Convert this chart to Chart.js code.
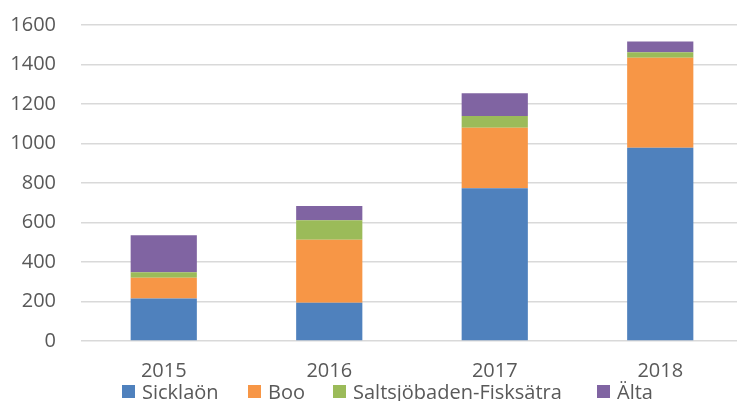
<!DOCTYPE html>
<html lang="sv">
<head>
  <meta charset="UTF-8">
  <title>Stacked columns 2015–2018</title>
  <style>
    * { box-sizing: border-box; margin: 0; padding: 0; }
    html, body { width: 737px; height: 401px; overflow: hidden; background: #fff; }
    .wrap { position: relative; width: 737px; height: 401px; overflow: hidden; }
    .chart-box { position: absolute; left: 0; top: -12px; width: 743px; height: 413px; }
    .legend {
      position: absolute; left: 122px; top: 382px; height: 19px;
      display: flex; align-items: center;
      font: 20px "Open Sans", sans-serif; color: #595959; white-space: nowrap;
    }
    .legend span { display: flex; align-items: center; }
    .legend span:nth-child(1) { width: 126px; }
    .legend span:nth-child(2) { width: 85px; }
    .legend span:nth-child(3) { width: 264px; }
    .legend i { display: inline-block; width: 13px; height: 13px; margin-right: 7px; }
  </style>
</head>
<body>
  <div class="wrap">
    <div class="chart-box"><canvas id="chart"></canvas></div>
    <div class="legend" id="legend"></div>
  </div>

  <script src="https://cdn.jsdelivr.net/npm/chart.js"></script>
  <script>
    const years = ['2015', '2016', '2017', '2018'];
    const seriesNames = ['Sicklaön', 'Boo', 'Saltsjöbaden-Fisksätra', 'Älta'];
    const sicklaon = [215, 194, 773, 979];
    const boo = [105, 319, 307, 455];
    const saltsjobaden = [28, 98, 59, 28];
    const alta = [187, 72, 115, 55];
    const yTicks = [0, 200, 400, 600, 800, 1000, 1200, 1400, 1600];

    const colors = ['#4f81bd', '#f79646', '#9bbb59', '#8064a2'];
    const values = [sicklaon, boo, saltsjobaden, alta];
    const textColor = '#595959';
    const font = { family: '"Open Sans", sans-serif', size: 20 };

    new Chart(document.getElementById('chart'), {
      type: 'bar',
      data: {
        labels: years,
        datasets: seriesNames.map((name, i) => ({
          label: name,
          data: values[i],
          backgroundColor: colors[i],
          borderWidth: 0,
          categoryPercentage: 1,
          barPercentage: 0.4
        }))
      },
      options: {
        responsive: true,
        maintainAspectRatio: false,
        animation: false,
        layout: { padding: 0 },
        plugins: { legend: { display: false }, tooltip: { enabled: false } },
        scales: {
          x: {
            stacked: true,
            grid: { display: false, drawTicks: false },
            border: { display: false },
            ticks: { color: textColor, font: font, padding: 18 }
          },
          y: {
            stacked: true,
            min: 0,
            max: yTicks[yTicks.length - 1],
            afterBuildTicks: s => { s.ticks = yTicks.map(v => ({ value: v })); },
            afterFit: s => { s.width = 81; },
            grid: { color: '#d9d9d9', lineWidth: 1.5, drawTicks: false },
            border: { display: false },
            ticks: { color: textColor, font: font, padding: 25, callback: v => String(v) }
          }
        }
      }
    });

    // legend built from the same series
    const legendEl = document.getElementById('legend');
    seriesNames.forEach((name, i) => {
      const item = document.createElement('span');
      const box = document.createElement('i');
      box.style.background = colors[i];
      item.append(box, document.createTextNode(name));
      legendEl.append(item);
    });
  </script>
</body>
</html>
